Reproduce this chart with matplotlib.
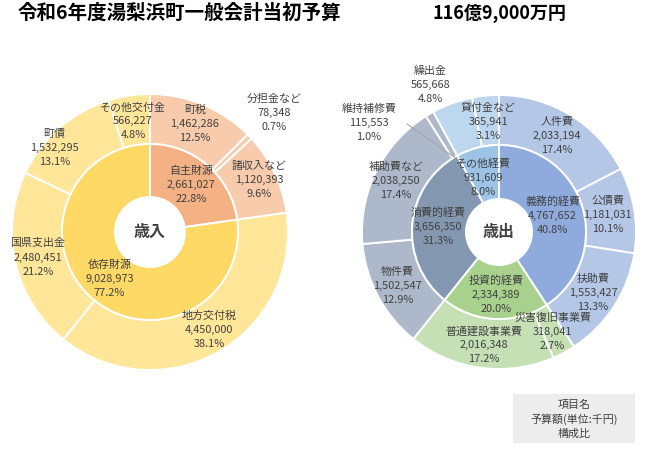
import numpy as np
import matplotlib.pyplot as plt
from matplotlib.patches import Rectangle

plt.rcParams["font.family"] = ["Noto Sans CJK JP", "DejaVu Sans"]

# ============================================================
#  DATA (単位: 千円)
# ============================================================
rev_inner_names = ["自主財源", "依存財源"]
rev_inner_vals = [2661027, 9028973]
rev_inner_pcts = ["22.8%", "77.2%"]

rev_outer_names = ["町税", "分担金など", "諸収入など", "地方交付税",
                   "国県支出金", "町債", "その他交付金"]
rev_outer_vals = [1462286, 78348, 1120393, 4450000, 2480451, 1532295, 566227]
rev_outer_pcts = ["12.5%", "0.7%", "9.6%", "38.1%", "21.2%", "13.1%", "4.8%"]

exp_inner_names = ["義務的経費", "投資的経費", "消費的経費", "その他経費"]
exp_inner_vals = [4767652, 2334389, 3656350, 931609]
exp_inner_pcts = ["40.8%", "20.0%", "31.3%", "8.0%"]

exp_outer_names = ["人件費", "公債費", "扶助費", "災害復旧事業費", "普通建設事業費",
                   "物件費", "補助費など", "維持補修費", "繰出金", "貸付金など"]
exp_outer_vals = [2033194, 1181031, 1553427, 318041, 2016348,
                  1502547, 2038250, 115553, 565668, 365941]
exp_outer_pcts = ["17.4%", "10.1%", "13.3%", "2.7%", "17.2%",
                  "12.9%", "17.4%", "1.0%", "4.8%", "3.1%"]

# ============================================================
#  色・配置（ピクセル座標, y は下向き）
# ============================================================
W, H = 650, 454
TXT = "#404040"

rev_inner_colors = ["#F4B183", "#FFD966"]
rev_outer_colors = ["#F8CBAD"] * 3 + ["#FFE699"] * 4
exp_inner_colors = ["#8FAADC", "#A9D18E", "#8497B0", "#9DC3E6"]
exp_outer_colors = ["#B4C7E7"] * 3 + ["#C5E0B4"] * 2 + ["#ADB9CA"] * 3 + ["#BDD7EE"] * 2

# ラベル位置: (半径, dx, dy)
rev_inner_pos = [(63, 0, 0), (62, 0, 0)]
rev_outer_pos = [(117, 0, 0), (172, 0, 0), (116, 4, -2), (112, 4, 0),
                 (115, 0, 0), (127, -12, 12), (112, 0, 0)]
exp_inner_pos = [(56, 0, 0), (63, 0, 0), (61, 0, 0), (56, -2, 0)]
exp_outer_pos = [(112, 0, 0), (110, 0, 0), (112, 0, 0), (113, 0, 0), (114, 0, 0),
                 (115, 0, 0), (115, 0, 0), (170, -44, 37), (162, -13, 5), (111, 0, 0)]

fig = plt.figure(figsize=(6.5, 4.54), dpi=100)
ax = fig.add_axes([0, 0, 1, 1])


def px(x, y):
    return (x, H - y)


def draw_donut(cx, cy, r_hole, r_mid, r_out,
               in_vals, in_cols, out_vals, out_cols):
    c = px(cx, cy)
    wp = dict(edgecolor="white", linewidth=1.4)
    ax.pie(out_vals, colors=out_cols, startangle=90, counterclock=False,
           radius=r_out, center=c, wedgeprops=dict(width=r_out - r_mid, **wp))
    ax.pie(in_vals, colors=in_cols, startangle=90, counterclock=False,
           radius=r_mid, center=c, wedgeprops=dict(width=r_mid - r_hole, **wp))


def mid_angles(vals):
    v = np.asarray(vals, dtype=float)
    cum = np.cumsum(v) - v / 2
    return cum / v.sum() * 360.0  # 12時から時計回り


def put_labels(cx, cy, names, vals, pcts, pos):
    for name, val, pct, th, (r, dx, dy) in zip(names, vals, pcts, mid_angles(vals), pos):
        t = np.deg2rad(th)
        x = cx + r * np.sin(t) + dx
        y = cy - r * np.cos(t) + dy
        ax.text(*px(x, y), f"{name}\n{val:,}\n{pct}", ha="center", va="center",
                fontsize=7.9, color=TXT, linespacing=1.5, zorder=5)


# --- 歳入 ---
lc = (150, 232)
draw_donut(*lc, 35, 88, 138, rev_inner_vals, rev_inner_colors,
           rev_outer_vals, rev_outer_colors)
put_labels(*lc, rev_inner_names, rev_inner_vals, rev_inner_pcts, rev_inner_pos)
put_labels(*lc, rev_outer_names, rev_outer_vals, rev_outer_pcts, rev_outer_pos)
ax.text(*px(*lc), "歳入", ha="center", va="center", fontsize=11.5,
        fontweight="bold", color=TXT, zorder=5)

# --- 歳出 ---
rc = (499, 232)
draw_donut(*rc, 33, 87, 137, exp_inner_vals, exp_inner_colors,
           exp_outer_vals, exp_outer_colors)
put_labels(*rc, exp_inner_names, exp_inner_vals, exp_inner_pcts, exp_inner_pos)
put_labels(*rc, exp_outer_names, exp_outer_vals, exp_outer_pcts, exp_outer_pos)
ax.text(*px(*rc), "歳出", ha="center", va="center", fontsize=11.5,
        fontweight="bold", color=TXT, zorder=5)

# 維持補修費の引出線
th = np.deg2rad(mid_angles(exp_outer_vals)[7])
x1, y1 = rc[0] + 86 * np.sin(th), rc[1] - 86 * np.cos(th)
ax.plot([px(407, 124)[0], px(x1, y1)[0]], [px(407, 124)[1], px(x1, y1)[1]],
        color="#A6A6A6", linewidth=0.8, zorder=4)

# --- タイトル ---
ax.text(*px(18, 13), "令和6年度湯梨浜町一般会計当初予算", ha="left", va="center",
        fontsize=14, fontweight="bold", color="black")
ax.text(*px(432, 13), "116億9,000万円", ha="left", va="center",
        fontsize=13, fontweight="bold", color="black")

# --- 凡例ボックス ---
ax.add_patch(Rectangle(px(513, 443), 122, 49, facecolor="#EDEDED",
                       edgecolor="none", zorder=3))
ax.text(*px(574, 419), "項目名\n予算額(単位:千円)\n構成比", ha="center", va="center",
        fontsize=7.9, color=TXT, linespacing=1.4, zorder=5)

ax.set_xlim(0, W)
ax.set_ylim(0, H)
ax.set_aspect("auto")
ax.axis("off")

fig.savefig("out.png", dpi=100)
